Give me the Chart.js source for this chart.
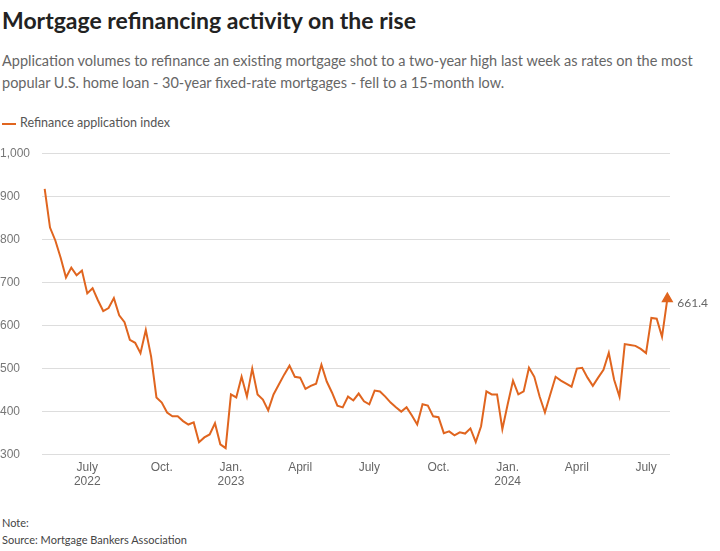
<!DOCTYPE html>
<html>
<head>
<meta charset="utf-8">
<script src="https://cdn.jsdelivr.net/npm/chart.js@4"></script>
<style>
  body { margin: 0; width: 720px; height: 551px; background: #fff; font-family: "Source Sans Pro", Lato, "Noto Sans", sans-serif; color: #333; position: relative; overflow: hidden; }
  h1 { position: absolute; left: 2px; top: 6px; margin: 0; font-size: 23px; font-weight: bold; color: #222; }
  .sub { position: absolute; left: 2px; top: 50px; width: 712px; font-size: 14.5px; line-height: 22px; color: #666; }
  .legend { position: absolute; left: 2px; top: 115px; font-size: 12.5px; color: #555; }
  .legend span { display: inline-block; width: 14px; height: 2px; background: #e0651f; vertical-align: middle; margin-right: 4px; }
  .wrap { position: absolute; left: 0; top: 140px; width: 716px; height: 355px; }
  .note { position: absolute; left: 2px; top: 514px; font-size: 11px; line-height: 17px; color: #444; }
</style>
</head>
<body>
<h1>Mortgage refinancing activity on the rise</h1>
<div class="sub">Application volumes to refinance an existing mortgage shot to a two-year high last week as rates on the most popular U.S. home loan - 30-year fixed-rate mortgages - fell to a 15-month low.</div>
<div class="legend"><span></span>Refinance application index</div>
<div class="wrap"><canvas id="c"></canvas></div>
<div class="note">Note:<br>Source: Mortgage Bankers Association</div>
<script>
// weekly refinance index, ending week of Aug 2, 2024
const refiValues = [
  917, 827, 797, 757, 711, 734, 716, 727, 674, 686, 658, 633, 640, 663, 623, 607, 566, 559, 535, 589,
  527, 432, 420, 397, 388, 388, 377, 369, 374, 328, 339, 346, 372, 323, 314, 439, 432,
  480, 434, 499, 439, 427, 402, 439, 462, 485, 506, 480, 478, 452, 459, 464, 508, 469, 443, 413, 409,
  434, 425, 441, 423, 416, 448, 446, 434, 420, 409, 399, 409, 390, 369, 416, 413, 388, 386, 349, 353, 344,
  351, 348, 360, 328, 365, 446, 439, 439, 358, 416, 471, 439, 446, 501, 480, 434, 397, 439, 480, 471,
  464, 457, 499, 501, 478, 459, 478, 496, 536, 473, 434, 556, 554, 552, 545, 535, 617, 615, 573, 661.4
];
const yTicks = [300, 400, 500, 600, 700, 800, 900, 1000];
const monthNames = { 0: 'Jan.', 3: 'April', 6: 'July', 9: 'Oct.' };
const lastWeek = new Date(2024, 7, 2);
const lineColor = '#e0651f';

// build week dates and mark weeks that hold the start of a quarter
const labels = [];
const tickText = {};
for (let i = 0; i < refiValues.length; i++) {
    const d = new Date(lastWeek.getTime() - (refiValues.length - 1 - i) * 7 * 86400000);
    labels.push(d.toISOString().slice(0, 10));
    if (d.getDate() <= 7 && monthNames[d.getMonth()] !== undefined) {
        const m = d.getMonth();
        tickText[i] = (m === 0 || (m === 6 && d.getFullYear() === 2022)) ? [monthNames[m], String(d.getFullYear())] : monthNames[m];
    }
}

const endLabel = {
    id: 'endLabel',
    afterDatasetsDraw(chart) {
        const meta = chart.getDatasetMeta(0);
        const pt = meta.data[meta.data.length - 1];
        const ctx = chart.ctx;
        ctx.save();
        ctx.font = '12px Lato, sans-serif';
        ctx.fillStyle = '#666';
        ctx.textBaseline = 'middle';
        ctx.fillText('661.4', pt.x + 10, pt.y + 4);
        ctx.restore();
    }
};

new Chart(document.getElementById('c'), {
    type: 'line',
    data: {
        labels: labels,
        datasets: [{
            data: refiValues,
            borderColor: lineColor,
            borderWidth: 2,
            tension: 0,
            pointRadius: refiValues.map((v, i) => i === refiValues.length - 1 ? 5 : 0),
            pointStyle: 'triangle',
            pointBackgroundColor: lineColor,
            pointBorderColor: lineColor
        }]
    },
    options: {
        responsive: true,
        maintainAspectRatio: false,
        animation: false,
        layout: { padding: { left: 0, right: 46, top: 4, bottom: 0 } },
        plugins: { legend: { display: false }, tooltip: { enabled: false } },
        scales: {
            y: {
                min: 300, max: 1000,
                afterBuildTicks: axis => { axis.ticks = yTicks.map(v => ({ value: v })); },
                ticks: {
                    color: '#777', font: { size: 12 }, crossAlign: 'far', padding: 6,
                    callback: v => v.toLocaleString('en-US')
                },
                grid: { color: '#ddd', lineWidth: 1, drawTicks: false },
                border: { display: false }
            },
            x: {
                offset: true,
                ticks: {
                    autoSkip: false, maxRotation: 0, color: '#666', font: { size: 12 }, padding: 6,
                    callback: (v, i) => tickText[i] !== undefined ? tickText[i] : null
                },
                grid: { display: false, drawTicks: false },
                border: { display: false }
            }
        }
    },
    plugins: [endLabel]
});
</script>
</body>
</html>
